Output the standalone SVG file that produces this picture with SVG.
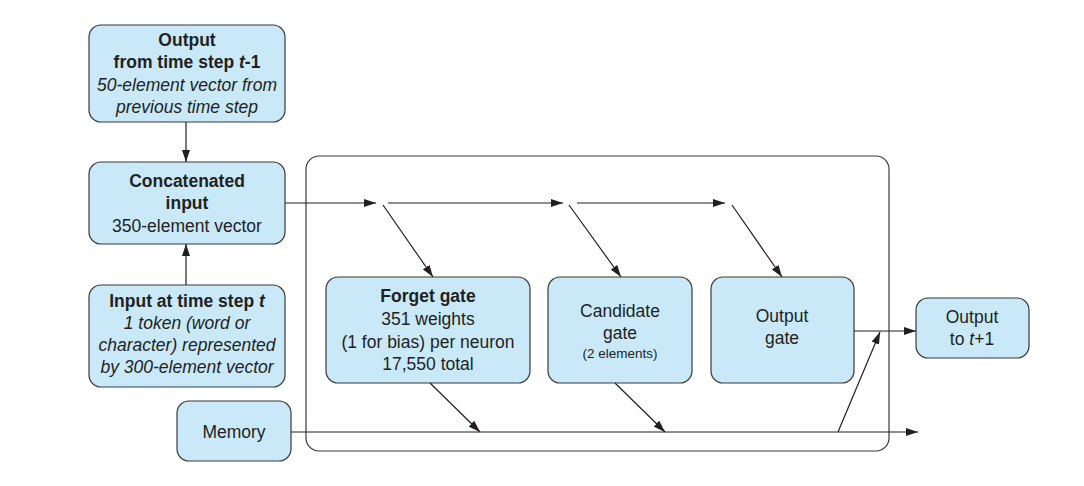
<svg xmlns="http://www.w3.org/2000/svg" width="1084" height="486" viewBox="0 0 1084 486">
<style>
.box{fill:#c9e9f9;stroke:#3a3a3a;stroke-width:1.2}
.frame{fill:none;stroke:#3a3a3a;stroke-width:1.2}
text{font-family:"Liberation Sans",Arial,sans-serif;font-size:17.5px;fill:#231f20;text-anchor:middle}
.b{font-weight:bold}
.i{font-style:italic}
.s{font-size:13.5px}
.c{stroke:#231f20;stroke-width:1.2;fill:none}
</style>
<defs>
<marker id="ah" viewBox="0 0 12 8" refX="12" refY="4" markerWidth="12" markerHeight="8" markerUnits="userSpaceOnUse" orient="auto">
<path d="M0,0 L12,4 L0,8 Z" fill="#231f20"/>
</marker>
</defs>
<rect class="frame" x="306" y="156" width="583" height="295" rx="13"/>
<g id="out_prev"><rect class="box" x="89" y="25" width="196" height="97" rx="12"/>
<text x="187" y="46" class="b">Output</text>
<text x="187" y="68" class="b">from time step <tspan class="i">t</tspan>-1</text>
<text x="187" y="91" class="i">50-element vector from</text>
<text x="187" y="113" class="i">previous time step</text></g>
<g id="concat"><rect class="box" x="89" y="162" width="196" height="82" rx="12"/>
<text x="187" y="187" class="b">Concatenated</text>
<text x="187" y="209" class="b">input</text>
<text x="187" y="232">350-element vector</text></g>
<g id="input_t"><rect class="box" x="89" y="285" width="196" height="102" rx="12"/>
<text x="187" y="307" class="b">Input at time step <tspan class="i">t</tspan></text>
<text x="187" y="329" class="i">1 token (word or</text>
<text x="187" y="351" class="i">character) represented</text>
<text x="187" y="373" class="i">by 300-element vector</text></g>
<g id="memory"><rect class="box" x="177" y="401" width="114" height="60" rx="12"/>
<text x="234" y="438">Memory</text></g>
<g id="forget"><rect class="box" x="326" y="277" width="204" height="106" rx="12"/>
<text x="428" y="302" class="b">Forget gate</text>
<text x="428" y="325">351 weights</text>
<text x="428" y="348">(1 for bias) per neuron</text>
<text x="428" y="370">17,550 total</text></g>
<g id="candidate"><rect class="box" x="548" y="277" width="144" height="106" rx="12"/>
<text x="620" y="317">Candidate</text>
<text x="620" y="339">gate</text>
<text x="620" y="358" class="s">(2 elements)</text></g>
<g id="outgate"><rect class="box" x="711" y="277" width="143" height="106" rx="12"/>
<text x="782" y="322">Output</text>
<text x="782" y="344">gate</text></g>
<g id="out_next"><rect class="box" x="916" y="298" width="113" height="60" rx="12"/>
<text x="972" y="323">Output</text>
<text x="972" y="345">to <tspan class="i">t</tspan>+1</text></g>
<g id="connectors">
<line class="c" x1="186" y1="122" x2="186" y2="162" marker-end="url(#ah)"/>
<line class="c" x1="186" y1="285" x2="186" y2="244" marker-end="url(#ah)"/>
<line class="c" x1="285" y1="203" x2="376" y2="203" marker-end="url(#ah)"/>
<line class="c" x1="388" y1="203" x2="563" y2="203" marker-end="url(#ah)"/>
<line class="c" x1="577" y1="203" x2="725" y2="203" marker-end="url(#ah)"/>
<line class="c" x1="383" y1="205" x2="433" y2="277" marker-end="url(#ah)"/>
<line class="c" x1="569" y1="205" x2="621" y2="277" marker-end="url(#ah)"/>
<line class="c" x1="732" y1="205" x2="782" y2="277" marker-end="url(#ah)"/>
<line class="c" x1="430" y1="383" x2="480" y2="432" marker-end="url(#ah)"/>
<line class="c" x1="615" y1="383" x2="665" y2="432" marker-end="url(#ah)"/>
<line class="c" x1="291" y1="432" x2="918" y2="432" marker-end="url(#ah)"/>
<line class="c" x1="838" y1="432" x2="880" y2="332" marker-end="url(#ah)"/>
<line class="c" x1="854" y1="331" x2="916" y2="331" marker-end="url(#ah)"/>
</g>
</svg>
